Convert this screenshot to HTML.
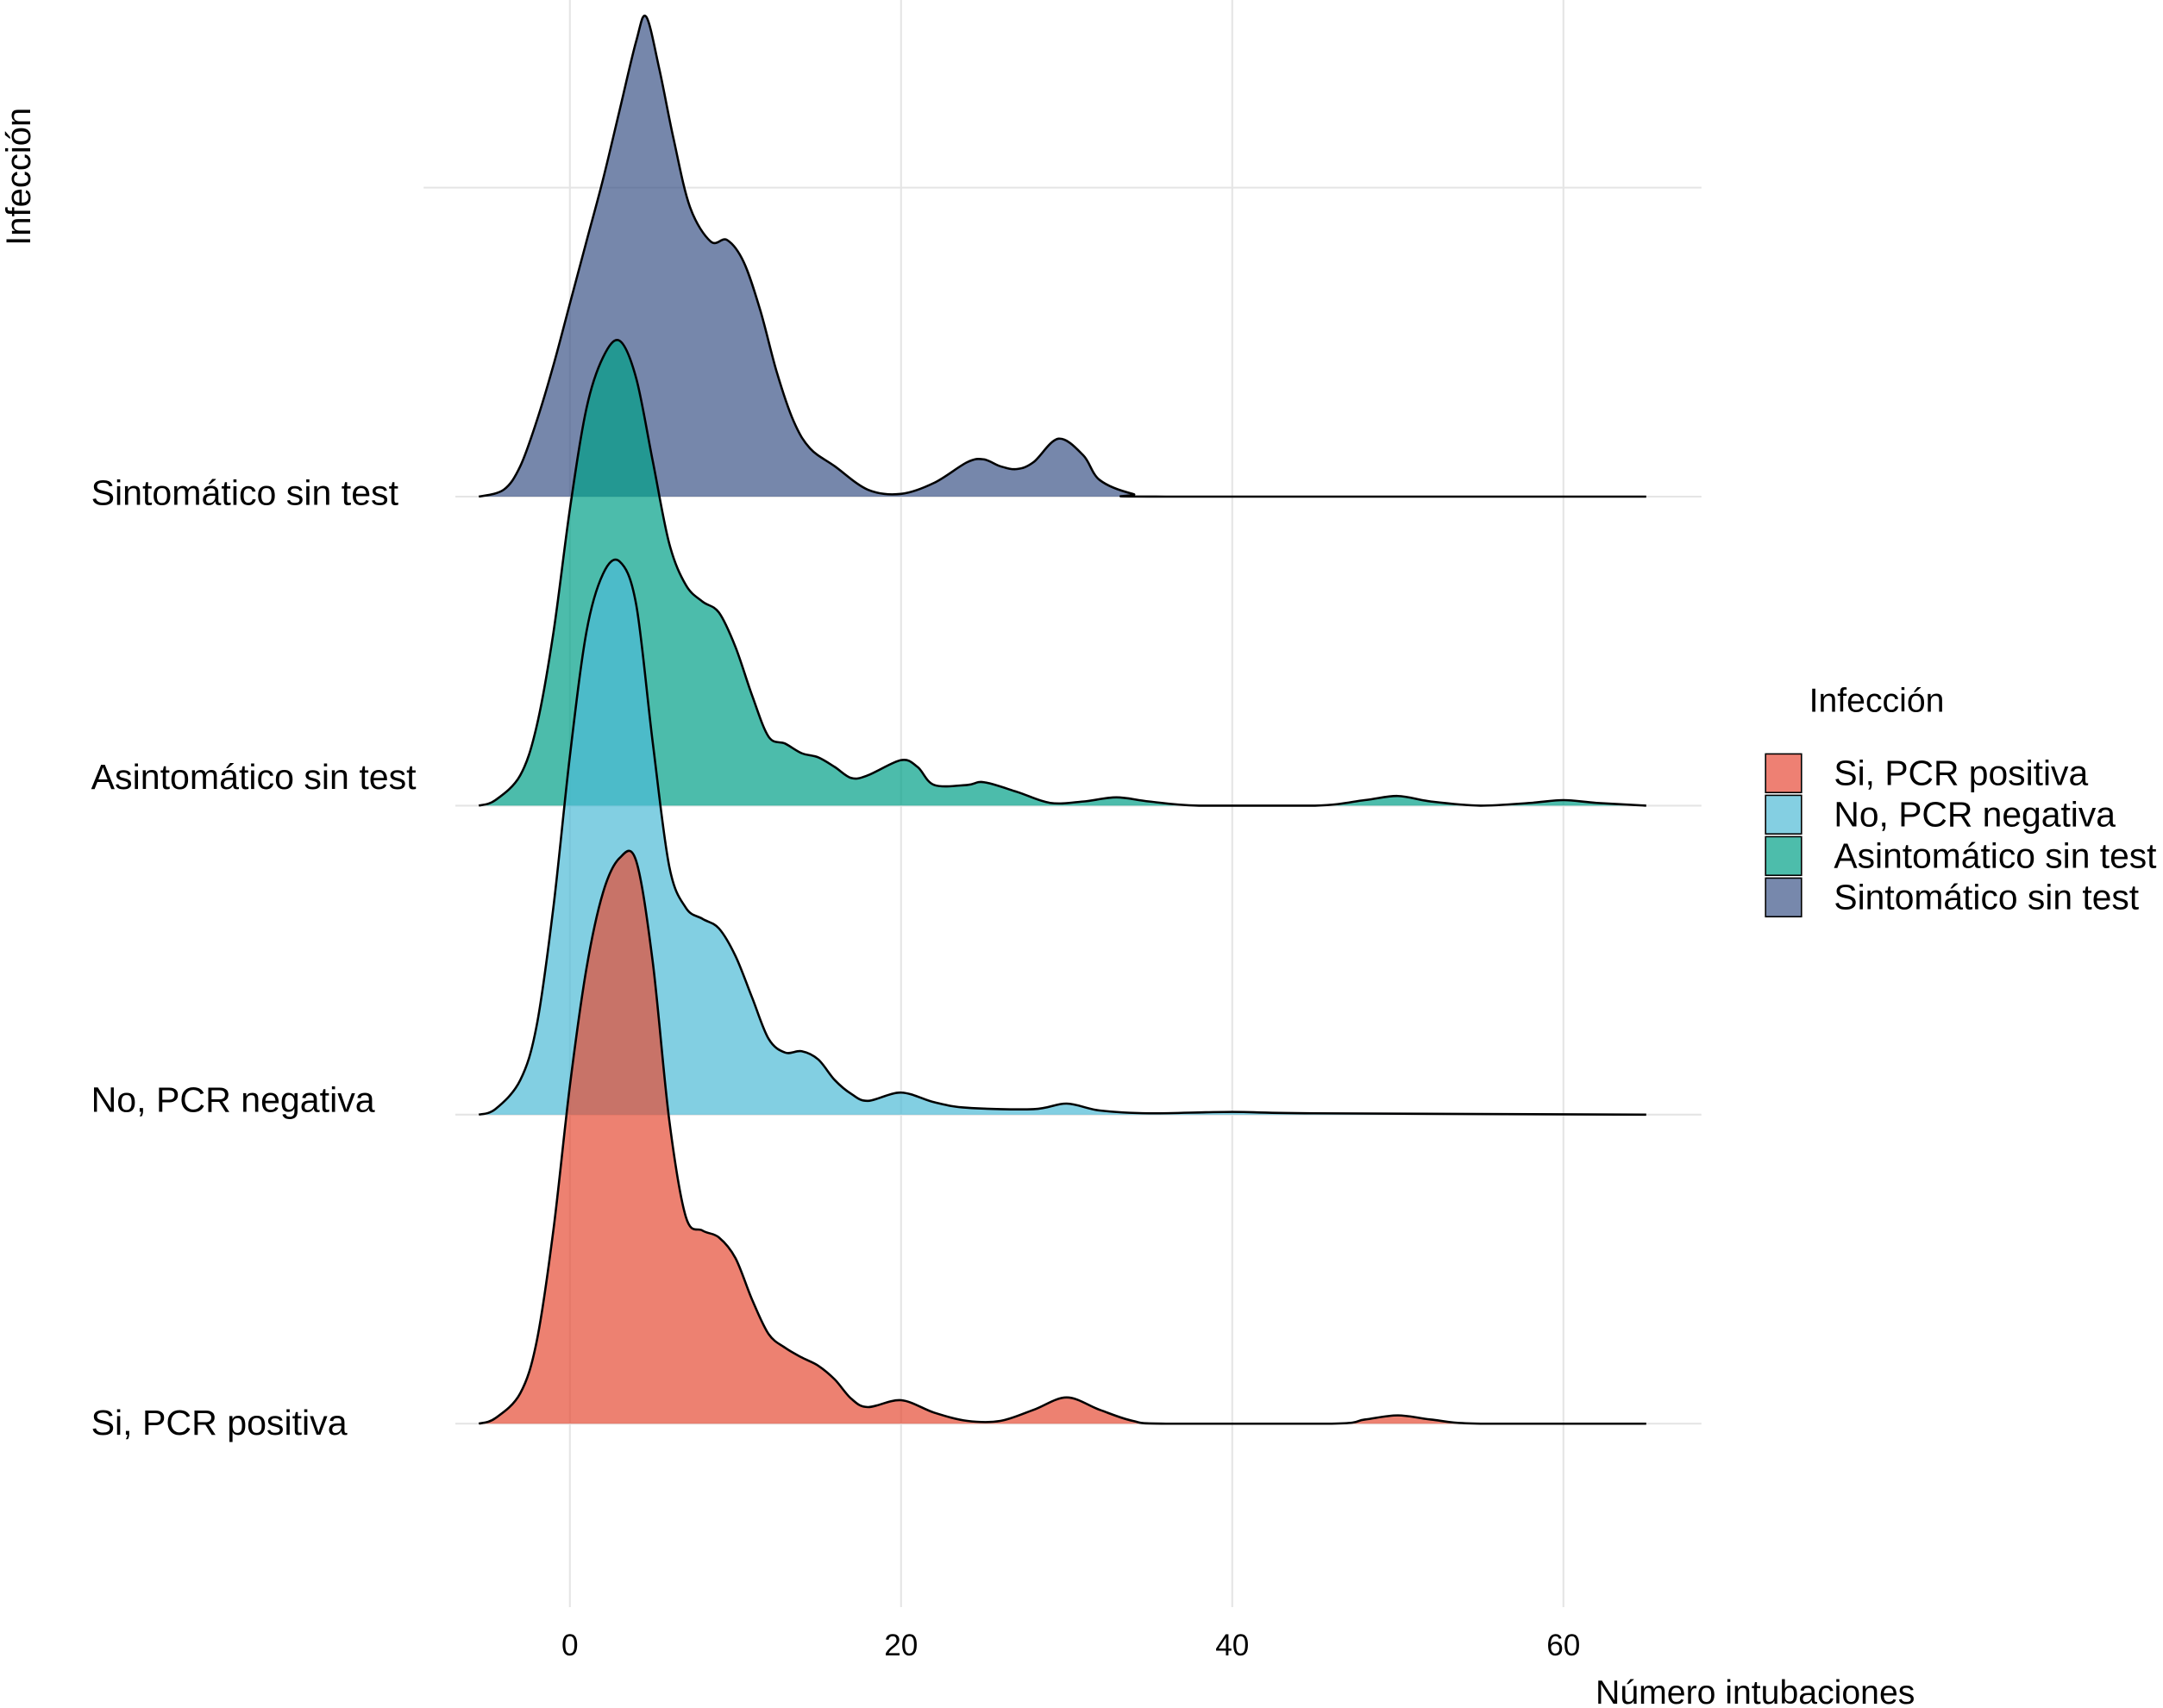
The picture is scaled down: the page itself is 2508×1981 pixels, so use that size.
<!DOCTYPE html>
<html><head><meta charset="utf-8"><style>
html,body{margin:0;padding:0;background:#fff}
svg{display:block}
text{font-family:"Liberation Sans",Arial,sans-serif;fill:#000}
</style></head><body>
<svg id="chart" width="2508" height="1981" viewBox="0 0 1567.5 1238.1" xmlns="http://www.w3.org/2000/svg">
<g id="grid"></g>
<g id="ridges"></g>
<g id="labels"></g>
<text x="22" y="128" font-size="25" text-anchor="middle" transform="rotate(-90 22 128)">Infección</text>
<text x="1272" y="1235" font-size="24.5" text-anchor="middle">Número intubaciones</text>
<g>
<text x="1311" y="516" font-size="24.5">Infección</text>
<rect x="1279.5" y="546.5" width="26" height="28" fill="#EE8073" stroke="#000" stroke-width="1"/>
<rect x="1279.5" y="576.5" width="26" height="28" fill="#84CFE2" stroke="#000" stroke-width="1"/>
<rect x="1279.5" y="606.5" width="26" height="28" fill="#4DBDAB" stroke="#000" stroke-width="1"/>
<rect x="1279.5" y="636.5" width="26" height="28" fill="#7788AC" stroke="#000" stroke-width="1"/>
<text x="1329" y="569" font-size="25.5">Si, PCR positiva</text>
<text x="1329" y="599" font-size="25.5">No, PCR negativa</text>
<text x="1329" y="629" font-size="25.5">Asintomático sin test</text>
<text x="1329" y="659" font-size="25.5">Sintomático sin test</text>
</g>
</svg>
<script>
const categories = ["Si, PCR positiva","No, PCR negativa","Asintomático sin test","Sintomático sin test"];
const xTicks = [0,20,40,60];
const colors = ["#E64B35","#4DBBD5","#00A087","#3C5488"];
const siX = [-5.5,-4.5,-3,-2,-1,0,1,2,3,4,5,6,7,8,9,10,11,12,13,14,15,16,17,18,20,22,24,26,28,30,32,34,36,46,48,50,52,55,65];
const siY = [0,4,22,60,140,245,330,385,410,408,335,220,150,140,135,120,90,65,55,48,42,32,18,12,17,8,2,2,10,19,10,2,0,0,3,6,3,0,0];
const noX = [-5.5,-4.5,-3,-2,-1,0,1,2,3,4,5,6,7,8,9,10,11,12,13,14,15,16,17,18,20,22,24,28,30,32,35,40,45,65];
const noY = [0,4,25,65,150,260,350,392,401,370,270,180,150,142,135,115,85,55,45,46,40,25,15,10,16,9,5,4,8,3,1,2,1,0];
const asX = [-5.5,-4.5,-3,-2,-1,0,1,2,3,4,5,6,7,8,9,10,11,12,13,14,15,16,17,18,20,21,22,24,25,27,29,31,33,35,38,45,48,50,52,55,58,60,62,65];
const asY = [0,4,22,58,125,215,288,325,337,310,250,190,160,148,140,115,80,50,45,38,35,28,20,22,33,28,15,15,17,10,2,3,6,3,0,0,4,7,3,0,2,4,2,0];
const stX = [-5.5,-4,-3,-2,-1,0,1,2,3,4,4.6,5.4,6.25,7.25,8.5,9.5,10.5,11.5,12.5,13.5,14.5,16,18,20,22,24,25,26,27,28,29.5,31,32,34,36,65];
const stY = [0,5,22,55,95,140,185,230,280,330,348,310,260,210,185,186,170,135,90,55,35,22,5,2,10,25,27,22,20,25,42,30,12,2,0,0];
const seriesX = [siX,noX,asX,stX];
const seriesY = [siY,noY,asY,stY];
const baselines = [1032,808,584,360];
const xs = v => 413 + 12*v;
const hs = d => d;
const NS="http://www.w3.org/2000/svg";
const grid=document.getElementById('grid');
function mk(tag,attrs,parent){const e=document.createElementNS(NS,tag);for(const k in attrs)e.setAttribute(k,attrs[k]);parent.appendChild(e);return e;}
xTicks.forEach(t=>{
  const l=mk('line',{x1:xs(t),x2:xs(t),y1:0,y2:1165,stroke:'#e5e5e5','stroke-width':1.3},grid);
  
  
  const tx=mk('text',{x:xs(t),y:1200,'font-size':22,'text-anchor':'middle'},document.getElementById('labels'));
  tx.textContent=t;
  
  
});
[136].concat(baselines).forEach((b,i)=>{
  const l=mk('line',{x1:i===0?307:330,x2:1233,y1:b,y2:b,stroke:'#e5e5e5','stroke-width':1.3},grid);
  
  
});
const labY=[1040,806,572,366];
categories.forEach((c,i)=>{
  const t=mk('text',{x:66,y:labY[i],'font-size':25.7},document.getElementById('labels'));
  t.textContent=c;
  
  
});
function smooth(pts,b){
  let d=`M${pts[0][0]},${pts[0][1]}`;
  for(let i=0;i<pts.length-1;i++){
    const p0=pts[Math.max(0,i-1)],p1=pts[i],p2=pts[i+1],p3=pts[Math.min(pts.length-1,i+2)];
    const c1=[p1[0]+(p2[0]-p0[0])/6,Math.min(b,p1[1]+(p2[1]-p0[1])/6)];
    const c2=[p2[0]-(p3[0]-p1[0])/6,Math.min(b,p2[1]-(p3[1]-p1[1])/6)];
    d+=` C${c1[0]},${c1[1]} ${c2[0]},${c2[1]} ${p2[0]},${p2[1]}`;
  }
  return d;
}
const ridges=document.getElementById('ridges');
const names=['ridge-si-pcr-positiva','ridge-no-pcr-negativa','ridge-asintomatico','ridge-sintomatico'];
for(let i=3;i>=0;i--){
  const b=baselines[i];
  const pts=seriesX[i].map((x,j)=>[xs(x),b-hs(seriesY[i][j])]);
  const line=smooth(pts,b);
  const area=mk('path',{d:line+` L${pts[pts.length-1][0]},${b} L${pts[0][0]},${b} Z`,fill:colors[i],'fill-opacity':0.7,stroke:'none'},ridges);
  
  
  const ln=mk('path',{d:line,fill:'none',stroke:'#000','stroke-width':1.6},ridges);
  
  
}
</script>
</body></html>
